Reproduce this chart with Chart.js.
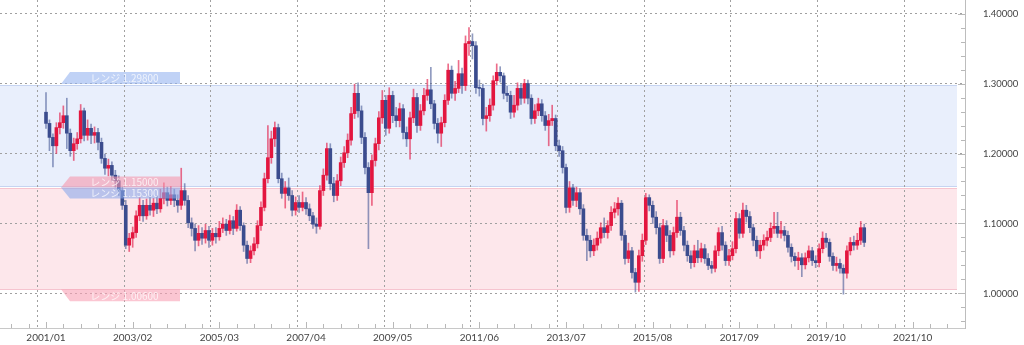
<!DOCTYPE html>
<html lang="ja">
<head>
<meta charset="utf-8">
<title>月足チャート</title>
<script src="https://cdn.jsdelivr.net/npm/chart.js@4.4.1/dist/chart.umd.min.js"></script>
<style>
    html, body { margin: 0; padding: 0; background: #fff; }
    #wrap { position: relative; width: 1024px; height: 345px; }
</style>
</head>
<body>
<div id="wrap"><canvas id="chartMensal"></canvas></div>
<script>
// monthly candles, index 0 = 2001/01
const opens = [
    1.259,1.243,1.223,1.211,1.237,1.244,1.254,1.229,1.204,1.214,1.221,1.261,
    1.226,1.236,1.226,1.230,1.216,1.193,1.179,1.183,1.169,1.161,1.147,1.126,
    1.069,1.079,1.087,1.111,1.126,1.111,1.126,1.119,1.129,1.121,1.136,1.144,
    1.133,1.141,1.133,1.126,1.147,1.133,1.101,1.093,1.076,1.086,1.079,1.090,
    1.076,1.086,1.081,1.093,1.099,1.090,1.104,1.093,1.119,1.097,1.069,1.050,
    1.061,1.071,1.097,1.123,1.164,1.194,1.221,1.237,1.164,1.143,1.151,1.140,
    1.119,1.130,1.123,1.130,1.121,1.111,1.099,1.096,1.147,1.169,1.207,1.157,
    1.140,1.161,1.187,1.201,1.219,1.257,1.286,1.261,1.223,1.180,1.144,1.190,
    1.214,1.251,1.276,1.236,1.283,1.254,1.247,1.264,1.230,1.221,1.251,1.280,
    1.240,1.261,1.283,1.291,1.271,1.243,1.229,1.244,1.276,1.319,1.286,1.293,
    1.314,1.297,1.357,1.360,1.354,1.294,1.293,1.250,1.254,1.269,1.304,1.316,
    1.311,1.286,1.283,1.259,1.269,1.293,1.279,1.300,1.279,1.250,1.261,1.271,
    1.254,1.240,1.247,1.250,1.211,1.204,1.180,1.123,1.151,1.133,1.144,1.121,
    1.083,1.076,1.061,1.069,1.079,1.094,1.087,1.097,1.116,1.121,1.129,1.083,
    1.050,1.061,1.030,1.016,1.054,1.076,1.137,1.126,1.109,1.094,1.050,1.097,
    1.083,1.061,1.087,1.109,1.090,1.069,1.054,1.044,1.061,1.051,1.064,1.050,
    1.040,1.036,1.061,1.087,1.069,1.047,1.054,1.064,1.107,1.086,1.119,1.110,
    1.094,1.076,1.061,1.069,1.076,1.080,1.093,1.096,1.086,1.090,1.083,1.066,
    1.053,1.047,1.051,1.041,1.051,1.061,1.047,1.044,1.064,1.079,1.073,1.053,
    1.040,1.043,1.036,1.029,1.061,1.073,1.069,1.076,1.094
];
const highs = [
    1.287,1.248,1.228,1.244,1.258,1.268,1.279,1.235,1.222,1.230,1.270,1.265,
    1.248,1.242,1.238,1.236,1.222,1.199,1.192,1.188,1.176,1.168,1.152,1.133,
    1.086,1.095,1.118,1.137,1.133,1.135,1.140,1.136,1.140,1.149,1.158,1.152,
    1.153,1.149,1.141,1.179,1.157,1.140,1.108,1.099,1.097,1.094,1.099,1.096,
    1.093,1.094,1.103,1.108,1.106,1.112,1.110,1.127,1.124,1.101,1.075,1.068,
    1.080,1.104,1.131,1.172,1.240,1.232,1.245,1.242,1.172,1.160,1.165,1.147,
    1.138,1.140,1.145,1.137,1.128,1.116,1.108,1.154,1.178,1.215,1.214,1.166,
    1.170,1.195,1.210,1.228,1.266,1.299,1.301,1.268,1.230,1.187,1.198,1.222,
    1.260,1.290,1.283,1.294,1.289,1.266,1.272,1.270,1.238,1.259,1.292,1.286,
    1.270,1.293,1.306,1.323,1.276,1.250,1.252,1.284,1.328,1.325,1.303,1.333,
    1.322,1.368,1.380,1.371,1.360,1.305,1.299,1.266,1.278,1.311,1.328,1.324,
    1.315,1.296,1.289,1.283,1.301,1.299,1.306,1.305,1.284,1.270,1.279,1.277,
    1.260,1.256,1.269,1.255,1.219,1.210,1.185,1.160,1.156,1.152,1.150,1.127,
    1.092,1.083,1.078,1.088,1.101,1.108,1.104,1.124,1.130,1.137,1.133,1.090,
    1.072,1.066,1.036,1.062,1.085,1.143,1.141,1.132,1.117,1.100,1.106,1.104,
    1.090,1.095,1.133,1.116,1.096,1.075,1.061,1.069,1.076,1.072,1.070,1.057,
    1.046,1.068,1.094,1.096,1.074,1.063,1.074,1.116,1.114,1.129,1.126,1.117,
    1.099,1.082,1.076,1.084,1.089,1.101,1.116,1.116,1.103,1.096,1.089,1.071,
    1.058,1.059,1.057,1.058,1.068,1.066,1.054,1.071,1.088,1.086,1.078,1.058,
    1.052,1.049,1.041,1.068,1.080,1.082,1.086,1.103,1.099
];
const lows = [
    1.236,1.204,1.181,1.200,1.228,1.236,1.207,1.196,1.190,1.206,1.215,1.218,
    1.219,1.214,1.215,1.205,1.186,1.170,1.168,1.160,1.152,1.140,1.120,1.064,
    1.060,1.066,1.080,1.104,1.103,1.106,1.112,1.110,1.114,1.116,1.128,1.125,
    1.127,1.124,1.116,1.120,1.126,1.094,1.082,1.061,1.068,1.070,1.072,1.066,
    1.069,1.072,1.076,1.087,1.083,1.085,1.084,1.089,1.090,1.060,1.043,1.044,
    1.055,1.065,1.090,1.118,1.158,1.186,1.210,1.158,1.136,1.122,1.133,1.111,
    1.112,1.116,1.118,1.113,1.104,1.093,1.086,1.092,1.140,1.162,1.148,1.131,
    1.133,1.154,1.180,1.194,1.212,1.250,1.252,1.214,1.171,1.064,1.126,1.182,
    1.205,1.243,1.226,1.229,1.244,1.238,1.238,1.221,1.210,1.192,1.244,1.230,
    1.233,1.255,1.276,1.264,1.235,1.215,1.210,1.238,1.270,1.279,1.276,1.287,
    1.286,1.290,1.340,1.335,1.286,1.282,1.241,1.232,1.246,1.262,1.298,1.302,
    1.278,1.274,1.250,1.252,1.262,1.270,1.272,1.271,1.242,1.243,1.254,1.246,
    1.233,1.211,1.240,1.204,1.196,1.172,1.115,1.116,1.126,1.124,1.113,1.076,
    1.047,1.052,1.054,1.062,1.072,1.080,1.079,1.090,1.108,1.112,1.076,1.042,
    1.044,1.022,1.002,1.003,1.046,1.070,1.118,1.100,1.085,1.043,1.044,1.074,
    1.052,1.055,1.080,1.083,1.061,1.046,1.036,1.038,1.044,1.045,1.043,1.034,
    1.029,1.031,1.054,1.062,1.040,1.040,1.048,1.058,1.079,1.080,1.102,1.087,
    1.068,1.053,1.050,1.062,1.068,1.074,1.086,1.080,1.079,1.075,1.059,1.045,
    1.039,1.034,1.024,1.035,1.045,1.040,1.037,1.038,1.058,1.066,1.046,1.033,
    1.032,1.029,0.999,1.022,1.055,1.062,1.063,1.070,1.067
];
const closes = [
    1.243,1.223,1.211,1.237,1.244,1.254,1.229,1.204,1.214,1.221,1.261,1.226,
    1.236,1.226,1.230,1.216,1.193,1.179,1.183,1.169,1.161,1.147,1.126,1.069,
    1.079,1.087,1.111,1.126,1.111,1.126,1.119,1.129,1.121,1.136,1.144,1.133,
    1.141,1.133,1.126,1.147,1.133,1.101,1.093,1.076,1.086,1.079,1.090,1.076,
    1.086,1.081,1.093,1.099,1.090,1.104,1.093,1.119,1.097,1.069,1.050,1.061,
    1.071,1.097,1.123,1.164,1.194,1.221,1.237,1.164,1.143,1.151,1.140,1.119,
    1.130,1.123,1.130,1.121,1.111,1.099,1.096,1.147,1.169,1.207,1.157,1.140,
    1.161,1.187,1.201,1.219,1.257,1.286,1.261,1.223,1.180,1.144,1.190,1.214,
    1.251,1.276,1.236,1.283,1.254,1.247,1.264,1.230,1.221,1.251,1.280,1.240,
    1.261,1.283,1.291,1.271,1.243,1.229,1.244,1.276,1.319,1.286,1.293,1.314,
    1.297,1.357,1.360,1.354,1.294,1.293,1.250,1.254,1.269,1.304,1.316,1.311,
    1.286,1.283,1.259,1.269,1.293,1.279,1.300,1.279,1.250,1.261,1.271,1.254,
    1.240,1.247,1.250,1.211,1.204,1.180,1.123,1.151,1.133,1.144,1.121,1.083,
    1.076,1.061,1.069,1.079,1.094,1.087,1.097,1.116,1.121,1.129,1.083,1.050,
    1.061,1.030,1.016,1.054,1.076,1.137,1.126,1.109,1.094,1.050,1.097,1.083,
    1.061,1.087,1.109,1.090,1.069,1.054,1.044,1.061,1.051,1.064,1.050,1.040,
    1.036,1.061,1.087,1.069,1.047,1.054,1.064,1.107,1.086,1.119,1.110,1.094,
    1.076,1.061,1.069,1.076,1.080,1.093,1.096,1.086,1.090,1.083,1.066,1.053,
    1.047,1.051,1.041,1.051,1.061,1.047,1.044,1.064,1.079,1.073,1.053,1.040,
    1.043,1.036,1.029,1.061,1.073,1.069,1.076,1.094,1.073
];

// one label every 25 months
const xTickLabels = ['2001/01','2003/02','2005/03','2007/04','2009/05','2011/06',
                     '2013/07','2015/08','2017/09','2019/10','2021/10'];

// range lines: blue top, blue bottom, pink top, pink bottom
const rangeLevels = [1.298, 1.153, 1.150, 1.006];
const rangeLabels = ['レンジ 1.29800', 'レンジ 1.15300', 'レンジ 1.15000', 'レンジ 1.00600'];

const COR_ALTA = '#e3163f';
const COR_BAIXA = '#3b4c8e';
const PAVIO_ALTA = 'rgba(227,30,75,0.65)';
const PAVIO_BAIXA = 'rgba(70,88,150,0.6)';

const subiu = i => closes[i] >= opens[i];
const isMajorX = v => v >= 0 && Math.abs(v % 25) < 1e-6;
const isMajorY = v => Math.abs(v * 10 - Math.round(v * 10)) < 1e-6;

// marcas do eixo: 5 meses no x, 0.02 no y
const xMarcas = [];
for (let v = -10; v <= 260; v += 5) xMarcas.push(v);
const yMarcas = [];
for (let k = 48; k <= 70; k++) yMarcas.push(Math.round(k * 2) / 100);

const corpos = closes.map((c, i) => ({ x: i, y: [opens[i], c] }));
const pavios = closes.map((c, i) => ({ x: i, y: [lows[i], highs[i]] }));

// --- faixas de range atras de tudo ---
const faixas = {
    id: 'faixas',
    beforeDraw(chart) {
        const { ctx, chartArea: a, scales: { y } } = chart;
        const right = a.right - 8;
        const w = right - a.left;
        const yb1 = y.getPixelForValue(rangeLevels[0]);
        const yb2 = y.getPixelForValue(rangeLevels[1]);
        const yp1 = y.getPixelForValue(rangeLevels[2]);
        const yp2 = y.getPixelForValue(rangeLevels[3]);
        ctx.save();
        ctx.fillStyle = '#e9effc';
        ctx.fillRect(a.left, yb1, w, yb2 - yb1);
        ctx.fillStyle = '#fde7eb';
        ctx.fillRect(a.left, yp1, w, yp2 - yp1);
        ctx.lineWidth = 1;
        ctx.strokeStyle = '#c6d4f1';
        ctx.beginPath();
        ctx.moveTo(a.left, Math.round(yb1) + 0.5); ctx.lineTo(right, Math.round(yb1) + 0.5);
        ctx.moveTo(a.left, Math.round(yb2) + 0.5); ctx.lineTo(right, Math.round(yb2) + 0.5);
        ctx.stroke();
        ctx.strokeStyle = '#f6c4cf';
        ctx.beginPath();
        ctx.moveTo(a.left, Math.round(yp1) + 0.5); ctx.lineTo(right, Math.round(yp1) + 0.5);
        ctx.moveTo(a.left, Math.round(yp2) + 0.5); ctx.lineTo(right, Math.round(yp2) + 0.5);
        ctx.stroke();
        ctx.restore();
    }
};

// --- etiquetas "レンジ" ---
function etiqueta(ctx, x0, x1, yLinha, alto, acima, cor, texto) {
    const y2 = acima ? yLinha - alto : yLinha + alto;
    ctx.fillStyle = cor;
    ctx.beginPath();
    ctx.moveTo(x0, yLinha);
    ctx.lineTo(x0 + 9, y2);
    ctx.lineTo(x1, y2);
    ctx.lineTo(x1, yLinha);
    ctx.closePath();
    ctx.fill();
    ctx.fillStyle = 'rgba(255,255,255,0.75)';
    ctx.font = '10px "Noto Sans CJK JP", "Noto Sans", sans-serif';
    ctx.textAlign = 'center';
    ctx.textBaseline = 'middle';
    ctx.fillText(texto, (x0 + x1) / 2 + 4, (yLinha + y2) / 2 + 0.5);
}

const etiquetas = {
    id: 'etiquetas',
    afterDatasetsDraw(chart) {
        const { ctx, chartArea: a, scales: { y } } = chart;
        const x0 = a.left + 61, x1 = a.left + 180;
        ctx.save();
        etiqueta(ctx, x0, x1, y.getPixelForValue(rangeLevels[0]) - 1, 12, true, 'rgba(150,180,240,0.6)', rangeLabels[0]);
        etiqueta(ctx, x0, x1, y.getPixelForValue(rangeLevels[2]) - 1, 11, true, 'rgba(246,150,172,0.6)', rangeLabels[2]);
        etiqueta(ctx, x0, x1, y.getPixelForValue(rangeLevels[1]) + 1, 11, false, 'rgba(140,170,235,0.6)', rangeLabels[1]);
        etiqueta(ctx, x0, x1, y.getPixelForValue(rangeLevels[3]), 12, false, 'rgba(248,160,180,0.6)', rangeLabels[3]);
        ctx.restore();
    }
};

// --- marcas dos eixos desenhadas para dentro ---
const marcas = {
    id: 'marcas',
    afterDraw(chart) {
        const { ctx, chartArea: a, scales: { x, y } } = chart;
        ctx.save();
        ctx.strokeStyle = '#b8b8b8';
        ctx.lineWidth = 1;
        ctx.beginPath();
        x.ticks.forEach(t => {
            const px = Math.round(x.getPixelForValue(t.value)) + 0.5;
            const len = isMajorX(t.value) ? 6 : 4;
            ctx.moveTo(px, a.bottom - len); ctx.lineTo(px, a.bottom);
        });
        y.ticks.forEach(t => {
            const py = Math.round(y.getPixelForValue(t.value)) + 0.5;
            const len = isMajorY(t.value) ? 7 : 4;
            ctx.moveTo(a.right - len, py); ctx.lineTo(a.right, py);
        });
        ctx.stroke();
        ctx.restore();
    }
};

new Chart(document.getElementById('chartMensal'), {
    type: 'bar',
    data: {
        datasets: [
            {
                label: 'corpo',
                data: corpos,
                backgroundColor: c => subiu(c.dataIndex) ? COR_ALTA : COR_BAIXA,
                barThickness: 3,
                minBarLength: 1,
                borderWidth: 0,
                grouped: false
            },
            {
                label: 'pavio',
                data: pavios,
                backgroundColor: c => subiu(c.dataIndex) ? PAVIO_ALTA : PAVIO_BAIXA,
                barThickness: 1,
                borderWidth: 0,
                grouped: false
            }
        ]
    },
    options: {
        responsive: true,
        maintainAspectRatio: false,
        animation: false,
        layout: { padding: 0, autoPadding: false },
        plugins: { legend: { display: false }, tooltip: { enabled: false } },
        scales: {
            x: {
                type: 'linear',
                bounds: 'data',
                min: -13.27,
                max: 265.07,
                offset: false,
                afterBuildTicks: s => { s.ticks = xMarcas.map(v => ({ value: v })); },
                afterFit: s => { s.height = 17; s.paddingLeft = 0; s.paddingRight = 0; },
                ticks: {
                    autoSkip: false,
                    maxRotation: 0,
                    padding: 4,
                    color: '#444',
                    font: { family: 'Lato', size: 10 },
                    callback: v => isMajorX(v) ? xTickLabels[Math.round(v / 25)] : ''
                },
                grid: {
                    drawTicks: false,
                    color: c => (c.tick && isMajorX(c.tick.value)) ? '#a0a0a0' : 'rgba(0,0,0,0)'
                },
                border: { color: '#c8c8c8', dash: [2, 3] }
            },
            y: {
                position: 'right',
                bounds: 'data',
                min: 0.95071,
                max: 1.41929,
                afterBuildTicks: s => { s.ticks = yMarcas.map(v => ({ value: v })); },
                afterFit: s => { s.width = 59; s.paddingTop = 0; s.paddingBottom = 0; },
                ticks: {
                    autoSkip: false,
                    padding: 18,
                    color: '#444',
                    font: { family: 'Lato', size: 9.5 },
                    callback: v => isMajorY(v) ? v.toFixed(5) : ''
                },
                grid: {
                    drawTicks: false,
                    color: c => (c.tick && isMajorY(c.tick.value)) ? '#a0a0a0' : 'rgba(0,0,0,0)'
                },
                border: { color: '#bdbdbd', dash: [2, 3] }
            }
        }
    },
    plugins: [faixas, etiquetas, marcas]
});
</script>
</body>
</html>
